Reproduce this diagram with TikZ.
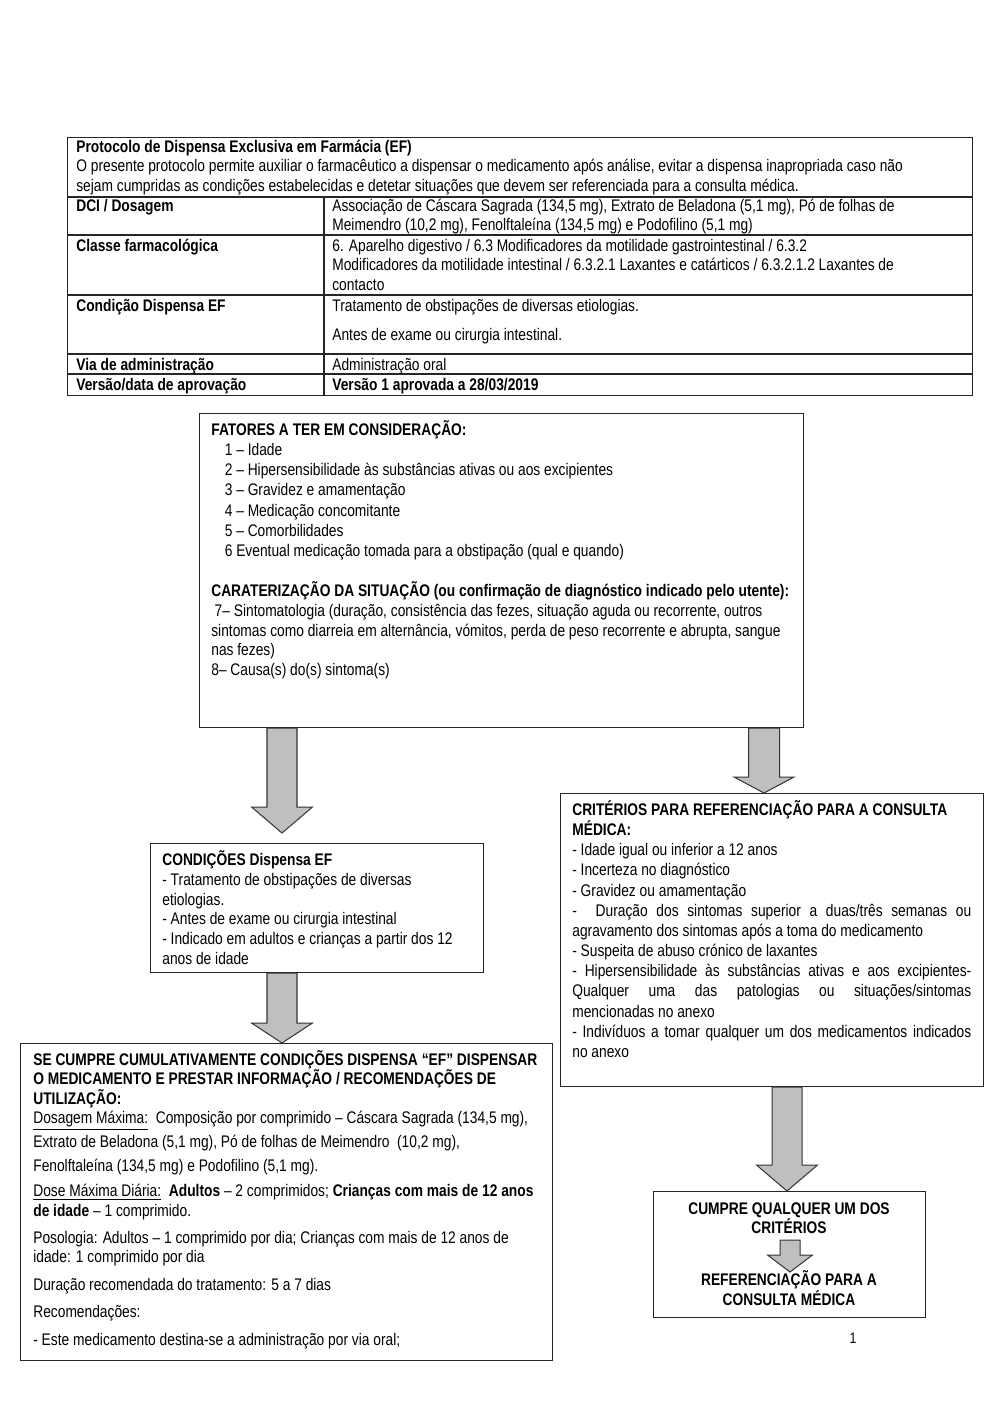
\documentclass[tikz,border=0pt]{standalone}
\usepackage{fontspec}
\setmainfont{Liberation Sans}[FakeStretch=0.82]
\usetikzlibrary{calc}

% #1 name, #2 x1, #3 y1, #4 x2, #5 y2 (pixels)
\newcommand\pbox[5]{\node[frame, minimum width={(#4-#2)*0.595pt}, minimum height={(#5-#3)*0.595pt}] (#1) at (#2,#3) {};}
% block arrow: #1 start, #2 tip, #3 shaft half width, #4 head half width, #5 head length (px)
\newcommand\barrow[5]{%
  \path[barr] let \p1=(#1), \p2=(#2) in
    (\x2-#3*0.595pt,\y1) -- (\x2+#3*0.595pt,\y1) -- (\x2+#3*0.595pt,\y2+#5*0.595pt)
    -- (\x2+#4*0.595pt,\y2+#5*0.595pt) -- (\x2,\y2) -- (\x2-#4*0.595pt,\y2+#5*0.595pt)
    -- (\x2-#3*0.595pt,\y2+#5*0.595pt) -- cycle;}

\begin{document}
\begin{tikzpicture}[x=0.595pt,y=-0.595pt,
  frame/.style={draw=black!85, line width=0.7pt, inner sep=0pt, anchor=north west},
  tline/.style={draw=black!85, line width=0.7pt},
  txt/.style={anchor=north west, inner sep=0pt, align=left, yshift=10pt},
  ctxt/.style={anchor=base, inner sep=0pt, font={\fontsize{10}{12}\selectfont\bfseries}},
  barr/.style={fill=black!25, draw=black!80, line width=0.6pt, line join=miter},
]
\useasboundingbox (0,0) rectangle (1000,1414);

%% ---------------- table ----------------
\pbox{tbl}{67}{137}{972}{395}
\foreach \yy in {197,235,295,354,374}{\draw[tline] (tbl.west |- 0,\yy) -- (tbl.east |- 0,\yy);}
\draw[tline] (324,197) coordinate (dv) -- (dv |- tbl.south);

\node[txt, font={\fontsize{10}{11.6}\selectfont}] (th) at (76,152) {\rule{0pt}{10pt}\textbf{Protocolo de Dispensa Exclusiva em Farmácia (EF)}\\
O presente protocolo permite auxiliar o farmacêutico a dispensar o medicamento após análise, evitar a dispensa inapropriada caso não\\
sejam cumpridas as condições estabelecidas e detetar situações que devem ser referenciada para a consulta médica.};

\node[txt, font={\fontsize{10}{11.6}\selectfont\bfseries}] (l1) at (76,211) {\rule{0pt}{10pt}DCI / Dosagem};
\node[txt, font={\fontsize{10}{11.6}\selectfont\bfseries}] (l2) at (76,251) {\rule{0pt}{10pt}Classe farmacológica};
\node[txt, font={\fontsize{10}{11.6}\selectfont\bfseries}] (l3) at (76,311) {\rule{0pt}{10pt}Condição Dispensa EF};
\node[txt, font={\fontsize{10}{11.6}\selectfont\bfseries}] (l4) at (76,370) {\rule{0pt}{10pt}Via de administração};
\node[txt, font={\fontsize{10}{11.6}\selectfont\bfseries}] (l5) at (76,390) {\rule{0pt}{10pt}Versão/data de aprovação};

\node[txt, font={\fontsize{10}{11.6}\selectfont}] (r1) at (332,211) {\rule{0pt}{10pt}Associação de Cáscara Sagrada (134,5 mg), Extrato de Beladona (5,1 mg), Pó de folhas de\\
Meimendro (10,2 mg), Fenolftaleína (134,5 mg) e Podofilino (5,1 mg)};
\node[txt, font={\fontsize{10}{11.6}\selectfont}] (r2) at (332,251) {\rule{0pt}{10pt}6. Aparelho digestivo / 6.3 Modificadores da motilidade gastrointestinal / 6.3.2\\
Modificadores da motilidade intestinal / 6.3.2.1 Laxantes e catárticos / 6.3.2.1.2 Laxantes de\\
contacto};
\node[txt, font={\fontsize{10}{11.6}\selectfont}] (r3) at (332,311) {\rule{0pt}{10pt}Tratamento de obstipações de diversas etiologias.\\[5.7pt]
Antes de exame ou cirurgia intestinal.};
\node[txt, font={\fontsize{10}{11.6}\selectfont}] (r4) at (332,370) {\rule{0pt}{10pt}Administração oral};
\node[txt, font={\fontsize{10}{11.6}\selectfont\bfseries}] (r5) at (332,390) {\rule{0pt}{10pt}Versão 1 aprovada a 28/03/2019};

%% ---------------- box 1 ----------------
\pbox{fat}{199}{413}{803}{727}
\node[txt, font={\fontsize{10}{12}\selectfont}] (fatt) at (211,435) {\rule{0pt}{10pt}\textbf{FATORES A TER EM CONSIDERAÇÃO:}\\
\hspace*{8pt}1 – Idade\\
\hspace*{8pt}2 – Hipersensibilidade às substâncias ativas ou aos excipientes\\
\hspace*{8pt}3 – Gravidez e amamentação\\
\hspace*{8pt}4 – Medicação concomitante\\
\hspace*{8pt}5 – Comorbilidades\\
\hspace*{8pt}6 Eventual medicação tomada para a obstipação (qual e quando)\\[12pt]
\textbf{CARATERIZAÇÃO DA SITUAÇÃO (ou confirmação de diagnóstico indicado pelo utente):}\\[-0.3pt]
\hspace*{2pt}7– Sintomatologia (duração, consistência das fezes, situação aguda ou recorrente, outros\\[-0.3pt]
sintomas como diarreia em alternância, vómitos, perda de peso recorrente e abrupta, sangue\\[-0.3pt]
nas fezes)\\[-0.3pt]
8– Causa(s) do(s) sintoma(s)};

%% ---------------- condições ----------------
\pbox{cond}{150}{843}{483}{972}
\node[txt, font={\fontsize{10}{11.8}\selectfont}] (condt) at (162,865) {\rule{0pt}{10pt}\textbf{CONDIÇÕES Dispensa EF}\\
- Tratamento de obstipações de diversas\\
etiologias.\\
- Antes de exame ou cirurgia intestinal\\
- Indicado em adultos e crianças a partir dos 12\\
anos de idade};

%% ---------------- critérios ----------------
\pbox{crit}{560}{793}{983}{1086}
\node[txt, font={\fontsize{10}{12}\selectfont}] (critt) at (572,815) {\rule{0pt}{10pt}\textbf{CRITÉRIOS PARA REFERENCIAÇÃO PARA A CONSULTA}\\
\textbf{MÉDICA:}\\
- Idade igual ou inferior a 12 anos\\
- Incerteza no diagnóstico\\
- Gravidez ou amamentação\\
\makebox[237.4pt][s]{-\hspace{6pt} Duração dos sintomas superior a duas/três semanas ou}\\
agravamento dos sintomas após a toma do medicamento\\
- Suspeita de abuso crónico de laxantes\\
\makebox[237.4pt][s]{- Hipersensibilidade às substâncias ativas e aos excipientes-}\\
\makebox[237.4pt][s]{Qualquer uma das patologias ou situações/sintomas}\\
mencionadas no anexo\\
\makebox[237.4pt][s]{- Indivíduos a tomar qualquer um dos medicamentos indicados}\\
no anexo};

%% ---------------- se cumpre ----------------
\pbox{sec}{20}{1043}{552}{1360}
\node[txt, font={\fontsize{10}{11.6}\selectfont}] (sect) at (33,1065) {\rule{0pt}{10pt}\textbf{SE CUMPRE CUMULATIVAMENTE CONDIÇÕES DISPENSA “EF” DISPENSAR}\\
\textbf{O MEDICAMENTO E PRESTAR INFORMAÇÃO / RECOMENDAÇÕES DE}\\
\textbf{UTILIZAÇÃO:}\\
\underline{Dosagem Máxima:}\ \ Composição por comprimido – Cáscara Sagrada (134,5 mg),\\[2.7pt]
Extrato de Beladona (5,1 mg), Pó de folhas de Meimendro\ \ (10,2 mg),\\[2.7pt]
Fenolftaleína (134,5 mg) e Podofilino (5,1 mg).\\[3.3pt]
\underline{Dose Máxima Diária:}\ \ \textbf{Adultos} – 2 comprimidos; \textbf{Crianças com mais de 12 anos}\\
\textbf{de idade} – 1 comprimido.\\[4.5pt]
Posologia: Adultos – 1 comprimido por dia; Crianças com mais de 12 anos de\\
idade: 1 comprimido por dia\\[4.5pt]
Duração recomendada do tratamento: 5 a 7 dias\\[4.5pt]
Recomendações:\\[5pt]
- Este medicamento destina-se a administração por via oral;};

%% ---------------- cumpre ----------------
\pbox{cum}{653}{1191}{925}{1317}
\node[ctxt] (c1) at (789,1214) {CUMPRE QUALQUER UM DOS};
\node[ctxt] (c2) at (789,1233) {CRITÉRIOS};
\node[ctxt] (c3) at (789,1285) {REFERENCIAÇÃO PARA A};
\node[ctxt] (c4) at (789,1305) {CONSULTA MÉDICA};

\node[anchor=base, inner sep=0pt, font={\fontsize{9}{10}\selectfont}] (pg) at (853,1343) {1};

%% ---------------- arrows ----------------
\coordinate (a1s) at (fat.south -| 282,0);
\coordinate (a1e) at ($(cond.north -| 282,0)+(0,-10)$);
\barrow{a1s}{a1e}{15}{30.5}{26}
\coordinate (a2s) at (cond.south -| 282,0);
\coordinate (a2e) at (sec.north -| 282,0);
\barrow{a2s}{a2e}{15}{30.5}{20}
\coordinate (a3s) at (fat.south -| 764,0);
\coordinate (a3e) at (crit.north -| 764,0);
\barrow{a3s}{a3e}{15.5}{30}{16}
\coordinate (a4s) at (crit.south -| 787,0);
\coordinate (a4e) at (cum.north -| 787,0);
\barrow{a4s}{a4e}{15}{30.5}{26}
\coordinate (a5s) at ($(c2.base -| 790,0)+(0,7)$);
\coordinate (a5e) at ($(c3.base -| 790,0)+(0,-13)$);
\barrow{a5s}{a5e}{10}{22.5}{17}
\end{tikzpicture}
\end{document}
